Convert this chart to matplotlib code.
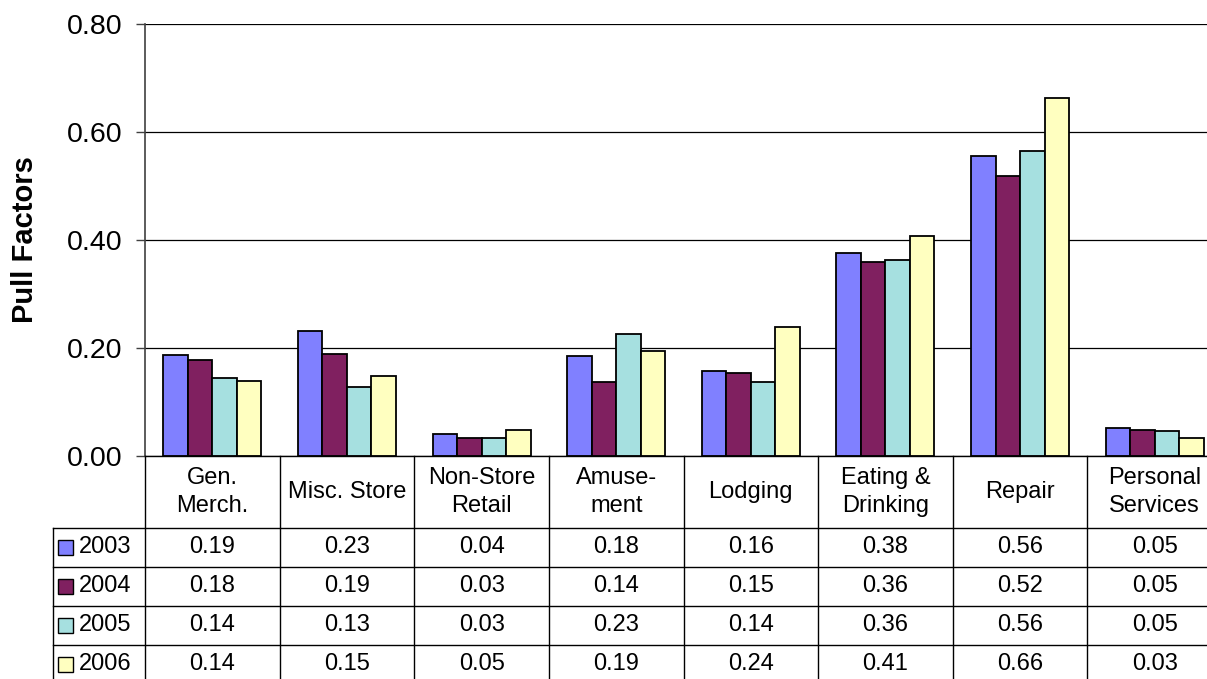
import matplotlib
matplotlib.use('Agg')
import matplotlib.pyplot as plt
import numpy as np
from matplotlib.patches import Rectangle

plt.rcParams['font.family'] = ['Liberation Sans', 'DejaVu Sans']

# --- data ---
categories = ["Gen.\nMerch.", "Misc. Store", "Non-Store\nRetail", "Amuse-\nment",
              "Lodging", "Eating &\nDrinking", "Repair", "Personal\nServices"]
years = ["2003", "2004", "2005", "2006"]
v2003 = [0.186, 0.231, 0.040, 0.184, 0.157, 0.375, 0.555, 0.051]
v2004 = [0.178, 0.189, 0.033, 0.136, 0.154, 0.360, 0.519, 0.048]
v2005 = [0.144, 0.127, 0.033, 0.226, 0.137, 0.362, 0.565, 0.046]
v2006 = [0.139, 0.147, 0.048, 0.194, 0.239, 0.407, 0.663, 0.032]
yticks = [0.0, 0.2, 0.4, 0.6, 0.8]

series = [v2003, v2004, v2005, v2006]
colors = ["#8080FF", "#802060", "#A6E0E0", "#FFFFC0"]

# --- layout (pixels of the 1207x679 canvas) ---
W, H = 1207, 679
AX_L, AX_R = 145, 1222       # right side runs off the canvas, as in the source
AX_TOP, AX_BOT = 24.3, 455.7
HEAD_H, ROW_H = 72, 39
TABLE_L = 52.7

fig = plt.figure(figsize=(W / 100, H / 100), dpi=100)
ax = fig.add_axes([AX_L / W, 1 - AX_BOT / H, (AX_R - AX_L) / W, (AX_BOT - AX_TOP) / H])

ymax = 0.8
px_y = ymax / (AX_BOT - AX_TOP)          # data units per pixel (vertical)
px_x = len(categories) / (AX_R - AX_L)   # data units per pixel (horizontal)

n = len(series)
bar_w = 0.182
x = np.arange(len(categories)) + 0.5
for i, (vals, c) in enumerate(zip(series, colors)):
    ax.bar(x + (i - (n - 1) / 2) * bar_w, vals, bar_w, color=c,
           edgecolor="black", linewidth=1.3, zorder=3)

ax.set_xlim(0, len(categories))
ax.set_ylim(0, ymax)
ax.set_yticks(yticks)
ax.set_yticklabels([f"{t:.2f}" for t in yticks], fontsize=20.5)
ax.tick_params(axis='y', length=6.5, width=1, pad=10, color="#404040")
ax.set_xticks([])
ax.grid(axis='y', color="black", linewidth=0.9, zorder=0)
ax.set_axisbelow(True)
for s in ["top", "right", "bottom"]:
    ax.spines[s].set_visible(False)
ax.spines["left"].set_color("#404040")
ax.spines["left"].set_linewidth(1.2)

fig.text(25 / W, 1 - 240 / H, "Pull Factors", rotation=90, ha="center", va="center",
         fontsize=21, fontweight="bold")

# --- data table under the chart ---
kw = dict(color="black", linewidth=1, clip_on=False, zorder=4)
head_bot = -HEAD_H * px_y
row_lines = [head_bot - k * ROW_H * px_y for k in range(len(years) + 1)]
tbl_left = (TABLE_L - AX_L) * px_x
tbl_bottom = row_lines[-1]

ax.plot([0, len(categories)], [0, 0], **kw)
for yl in row_lines:
    ax.plot([tbl_left, len(categories)], [yl, yl], **kw)
for k in range(len(categories) + 1):
    ax.plot([k, k], [0, tbl_bottom], **kw)
ax.plot([tbl_left, tbl_left], [head_bot, tbl_bottom], **kw)

for k, name in enumerate(categories):
    ax.text(k + 0.5, head_bot / 2, name, ha="center", va="center",
            fontsize=17, linespacing=1.37, clip_on=False)

key = 15
for r, (yr, vals, c) in enumerate(zip(years, series, colors)):
    yc = (row_lines[r] + row_lines[r + 1]) / 2
    ax.add_patch(Rectangle((tbl_left + 5 * px_x, yc - key / 2 * px_y),
                           key * px_x, key * px_y, facecolor=c, edgecolor="black",
                           linewidth=1, clip_on=False, zorder=5))
    ax.text(tbl_left + 26 * px_x, yc, yr, ha="left", va="center", fontsize=17,
            clip_on=False)
    for k, v in enumerate(vals):
        ax.text(k + 0.5, yc, f"{v:.2f}", ha="center", va="center", fontsize=17,
                clip_on=False)

fig.savefig("out.png", dpi=100)
